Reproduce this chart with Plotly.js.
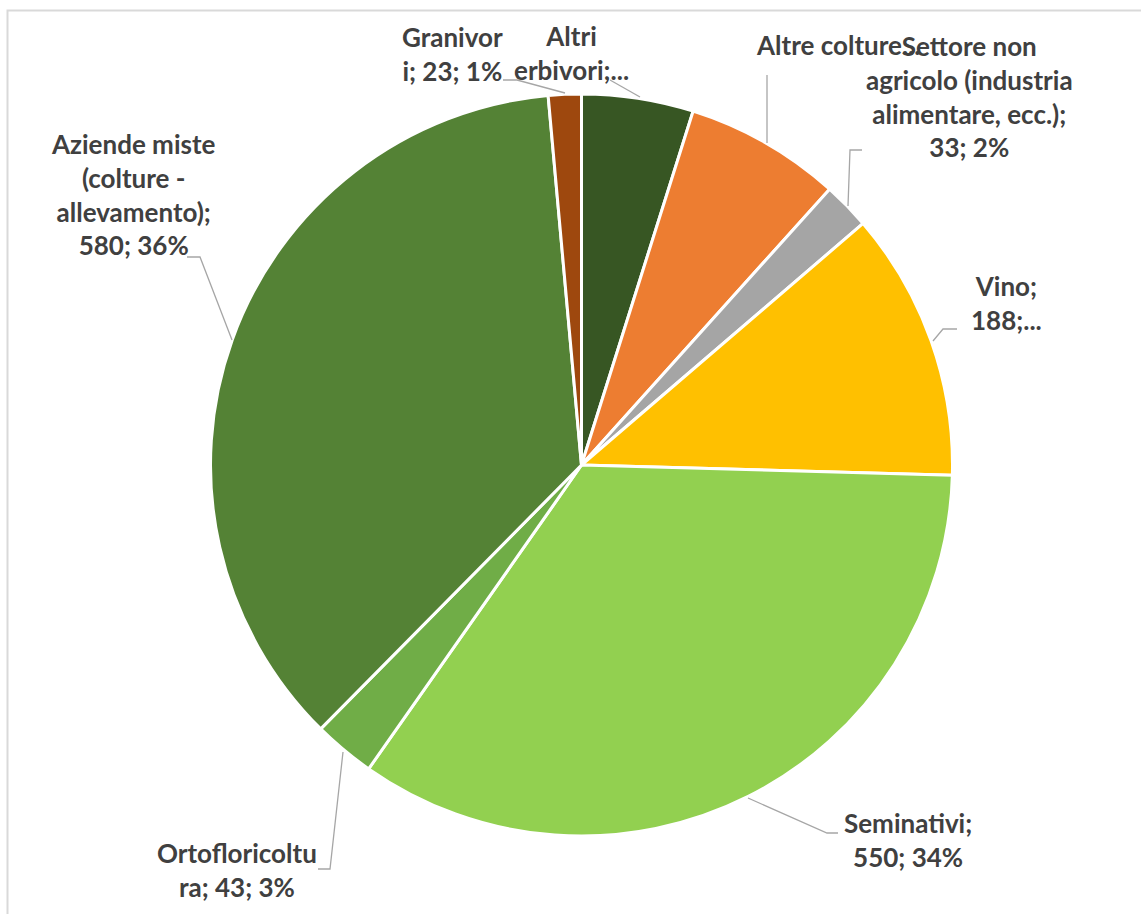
<!DOCTYPE html>
<html>
<head>
<meta charset="utf-8">
<script src="https://cdn.plot.ly/plotly-3.0.1.min.js"></script>
<style>html,body{margin:0;padding:0;background:#fff;}#chart{width:1141px;height:914px;}</style>
</head>
<body>
<div id="chart"></div>
<script>
// ---- data ----
const categories = ["Altri erbivori", "Altre colture", "Settore non agricolo (industria alimentare, ecc.)", "Vino", "Seminativi", "Ortofloricoltura", "Aziende miste (colture - allevamento)", "Granivori"];
const values = [78, 109, 33, 188, 550, 43, 580, 23];
const colors = ["#375623", "#ED7D31", "#A5A5A5", "#FFC000", "#92D050", "#70AD47", "#548235", "#9E480E"];
const labelTexts = [
  "Altri<br>erbivori;...",
  "Altre colture...",
  "Settore non<br>agricolo (industria<br>alimentare, ecc.);<br>33; 2%",
  "Vino;<br>188;...",
  "Seminativi;<br>550; 34%",
  "Ortofloricoltu<br>ra; 43; 3%",
  "Aziende miste<br>(colture -<br>allevamento);<br>580; 36%",
  "Granivor<br>i; 23; 1%"
];

// ---- layout helpers (pixel positions of label boxes and leader lines) ----
const W = 1141, H = 914;
const px = x => x / W;
const py = y => 1 - y / H;
const labelPos = [[571, 53], [838, 45], [970, 97], [1006, 303], [908, 840], [237, 870], [133, 194], [452, 54]];
const leaders = [
  [[610, 80], [640, 97]],
  [[767, 75], [767, 143]],
  [[862, 150], [850, 150], [848, 206]],
  [[957, 329], [943, 329], [933, 341]],
  [[838, 833], [827, 833], [748, 798]],
  [[318, 869], [330, 869], [343, 752]],
  [[187, 257], [200, 257], [232, 340]],
  [[503, 80], [517, 80], [565, 93]]
];

const trace = {
  type: "pie",
  labels: categories,
  values: values,
  sort: false,
  direction: "clockwise",
  rotation: 0,
  textinfo: "none",
  hoverinfo: "label+value+percent",
  marker: { colors: colors, line: { color: "#FFFFFF", width: 3 } },
  domain: { x: [px(210.5), px(952.5)], y: [py(836.5), py(93.5)] },
  showlegend: false
};

const annotations = labelTexts.map((t, i) => ({
  text: t,
  x: px(labelPos[i][0]), y: py(labelPos[i][1]),
  xref: "paper", yref: "paper",
  xanchor: "center", yanchor: "middle", align: "center",
  showarrow: false,
  font: { family: "Lato, Carlito, Calibri, sans-serif", size: 26, color: "#404040", weight: "bold" }
}));

const shapes = leaders.map(pts => ({
  type: "path", xref: "paper", yref: "paper",
  path: pts.map((p, j) => (j === 0 ? "M" : "L") + px(p[0]) + "," + py(p[1])).join(" "),
  line: { color: "#A6A6A6", width: 1.3 }
}));
shapes.push({
  type: "rect", xref: "paper", yref: "paper",
  x0: px(7.5), x1: 1.02, y0: -0.02, y1: py(10.5),
  line: { color: "#D9D9D9", width: 2 }, fillcolor: "rgba(0,0,0,0)", layer: "below"
});

const layout = {
  width: W, height: H,
  margin: { l: 0, r: 0, t: 0, b: 0 },
  paper_bgcolor: "#FFFFFF",
  annotations: annotations,
  shapes: shapes,
  showlegend: false
};

Plotly.newPlot("chart", [trace], layout, { displayModeBar: false, staticPlot: true });
</script>
</body>
</html>
